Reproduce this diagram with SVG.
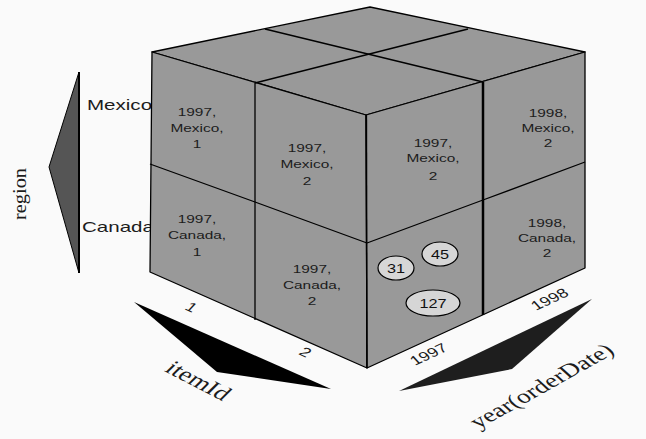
<svg xmlns="http://www.w3.org/2000/svg" width="646" height="439" viewBox="0 0 646 439">
<style>
.face{fill:#999999;stroke:#000;stroke-width:1.3;stroke-linejoin:round}
.ln{fill:none;stroke:#000;stroke-width:1.3}
.cell{font-family:"Liberation Sans",Arial,sans-serif;font-size:11px;fill:#1c1c1c;text-anchor:middle}
.lab{font-family:"Liberation Sans",Arial,sans-serif;font-size:15px;fill:#1c1c1c}
.tick{font-family:"Liberation Sans",Arial,sans-serif;font-size:13px;fill:#1c1c1c;text-anchor:middle}
.ser{font-family:"Liberation Serif","Times New Roman",serif;fill:#1c1c1c;text-anchor:middle}
.ov{fill:#d6d6d6;stroke:#000;stroke-width:1.2}
.num{font-family:"Liberation Sans",Arial,sans-serif;font-size:13px;fill:#111;text-anchor:middle}
</style>
<rect width="646" height="439" fill="#fafafa"/>

<g id="region-axis">
  <polygon points="79,72 79,273 49,167" fill="#555" stroke="#000" stroke-width="1"/>
  <line x1="79" y1="72" x2="79" y2="273" stroke="#000" stroke-width="2"/>
  <text class="ser" font-size="19" textLength="52" lengthAdjust="spacingAndGlyphs" transform="translate(26,194) rotate(-90)">region</text>
  <text class="lab" transform="translate(87,110) scale(1.37,1)">Mexico</text>
  <text class="lab" transform="translate(82,232) scale(1.37,1)">Canada</text>
</g>

<g id="itemId-axis">
  <polygon points="134,302 331,389 217,372" fill="#000"/>
  <g transform="scale(1.4,1)">
    <text class="tick" font-size="14" transform="translate(134.3,311) rotate(33)">1</text>
    <text class="tick" font-size="14" transform="translate(215.7,356) rotate(33)">2</text>
    <text class="ser" font-size="20" transform="translate(137.9,386) rotate(36)">itemId</text>
  </g>
</g>

<g id="year-axis">
  <polygon points="399,391 592,299 512,369" fill="#1e1e1e"/>
  <g transform="scale(1.4,1)">
    <text class="tick" transform="translate(308.6,358) rotate(-33)">1997</text>
    <text class="tick" transform="translate(395,303) rotate(-33)">1998</text>
    <text class="ser" font-size="19.5" transform="translate(390.7,391) rotate(-38)">year(orderDate)</text>
  </g>
</g>

<g id="cube">
  <polygon class="face" points="152,52 370,7 585,52 366,115"/>
  <polygon class="face" points="152,52 366,115 367,368 150,272"/>
  <polygon class="face" points="366,115 585,52 585,268 367,368"/>
</g>

<g id="connectors">
  <polyline class="ln" points="255,83 468,29"/>
  <polyline class="ln" points="483,82 265,29"/>
  <polyline class="ln" points="150,164 255,202 367,243"/>
  <line class="ln" x1="255" y1="83" x2="255" y2="320"/>
  <polyline class="ln" points="367,243 483,200 585,162"/>
  <line x1="483" y1="82" x2="483" y2="315" stroke="#000" stroke-width="2.5"/>
  <line class="ln" x1="366.5" y1="115" x2="367" y2="368"/>
</g>

<g id="cell-1997-mexico-1" class="cell">
  <text transform="translate(197,116) scale(1.4,1)">1997,</text>
  <text transform="translate(197,132) scale(1.4,1)">Mexico,</text>
  <text transform="translate(197,148) scale(1.4,1)">1</text>
</g>
<g id="cell-1997-mexico-2a" class="cell">
  <text transform="translate(307,152) scale(1.4,1)">1997,</text>
  <text transform="translate(307,168) scale(1.4,1)">Mexico,</text>
  <text transform="translate(307,185) scale(1.4,1)">2</text>
</g>
<g id="cell-1997-mexico-2b" class="cell">
  <text transform="translate(433,147) scale(1.4,1)">1997,</text>
  <text transform="translate(433,162) scale(1.4,1)">Mexico,</text>
  <text transform="translate(433,180) scale(1.4,1)">2</text>
</g>
<g id="cell-1998-mexico-2" class="cell">
  <text transform="translate(548,117) scale(1.4,1)">1998,</text>
  <text transform="translate(548,132) scale(1.4,1)">Mexico,</text>
  <text transform="translate(548,147) scale(1.4,1)">2</text>
</g>
<g id="cell-1997-canada-1" class="cell">
  <text transform="translate(197,223) scale(1.4,1)">1997,</text>
  <text transform="translate(197,239) scale(1.4,1)">Canada,</text>
  <text transform="translate(197,256) scale(1.4,1)">1</text>
</g>
<g id="cell-1997-canada-2" class="cell">
  <text transform="translate(312,273) scale(1.4,1)">1997,</text>
  <text transform="translate(312,289) scale(1.4,1)">Canada,</text>
  <text transform="translate(312,305) scale(1.4,1)">2</text>
</g>
<g id="cell-1998-canada-2" class="cell">
  <text transform="translate(547,227) scale(1.4,1)">1998,</text>
  <text transform="translate(547,242) scale(1.4,1)">Canada,</text>
  <text transform="translate(547,257) scale(1.4,1)">2</text>
</g>

<g id="value-31">
  <ellipse class="ov" cx="396" cy="268" rx="18" ry="12"/>
  <text class="num" transform="translate(396,273) scale(1.25,1)">31</text>
</g>
<g id="value-45">
  <ellipse class="ov" cx="440" cy="254" rx="18" ry="12"/>
  <text class="num" transform="translate(440,259) scale(1.25,1)">45</text>
</g>
<g id="value-127">
  <ellipse class="ov" cx="433" cy="303" rx="27" ry="13"/>
  <text class="num" transform="translate(433,308) scale(1.25,1)">127</text>
</g>
</svg>
